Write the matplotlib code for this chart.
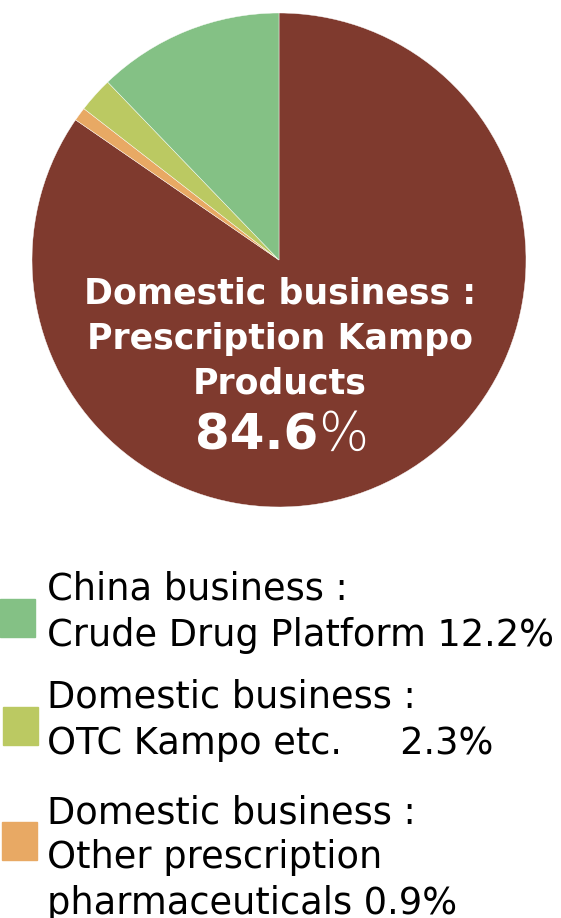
import matplotlib.pyplot as plt
from matplotlib.patches import Rectangle

# segment shares (%), drawn clockwise from 12 o'clock
segments = ["Prescription Kampo Products", "Other prescription pharmaceuticals",
            "OTC Kampo etc.", "Crude Drug Platform"]
shares = [84.6, 0.9, 2.3, 12.2]
colors = ["#7F3A2E", "#E8A964", "#BBC962", "#84C185"]

legend_lines = [
    ["China business :", "Crude Drug Platform 12.2%"],
    ["Domestic business :", "OTC Kampo etc.     2.3%"],
    ["Domestic business :", "Other prescription", "pharmaceuticals 0.9%"],
]
legend_colors = ["#84C185", "#BBC962", "#E8A964"]

W, H = 561, 918
fig = plt.figure(figsize=(W / 100, H / 100), dpi=100)

# pie: centre (279, 260) px, radius 247 px
cx, cy, r = 279, 260, 247
ax = fig.add_axes([(cx - r) / W, 1 - (cy + r) / H, 2 * r / W, 2 * r / H])
ax.pie(shares, colors=colors, startangle=90, counterclock=False, radius=1,
       wedgeprops=dict(edgecolor="white", linewidth=0.3))
ax.set_xlim(-1, 1)
ax.set_ylim(-1, 1)
ax.set_aspect("equal")
ax.axis("off")

# overlay axes in pixel coordinates for the texts and swatches
ov = fig.add_axes([0, 0, 1, 1])
ov.set_xlim(0, W)
ov.set_ylim(H, 0)
ov.axis("off")

center = ["Domestic business :", "Prescription Kampo", "Products"]
for i, line in enumerate(center):
    ov.text(280, 304 + i * 44.5, line, ha="center", va="baseline",
            color="white", fontsize=25, fontweight="bold")
ov.text(318, 450, f"{shares[0]}", ha="right", va="baseline",
        color="white", fontsize=36, fontweight="bold")
ov.text(318, 450, "%", ha="left", va="baseline", color="white", fontsize=38,
        fontweight="light")

baselines = [600, 708, 823]
swatch_x = [0, 3, 2]
for lines, col, b, sx in zip(legend_lines, legend_colors, baselines, swatch_x):
    ov.add_patch(Rectangle((sx, b - 1), 35, 38, color=col))
    for j, line in enumerate(lines):
        ov.text(47, b + j * 45.5, line, ha="left", va="baseline",
                color="black", fontsize=26.5)

fig.savefig("out.png", dpi=100)
